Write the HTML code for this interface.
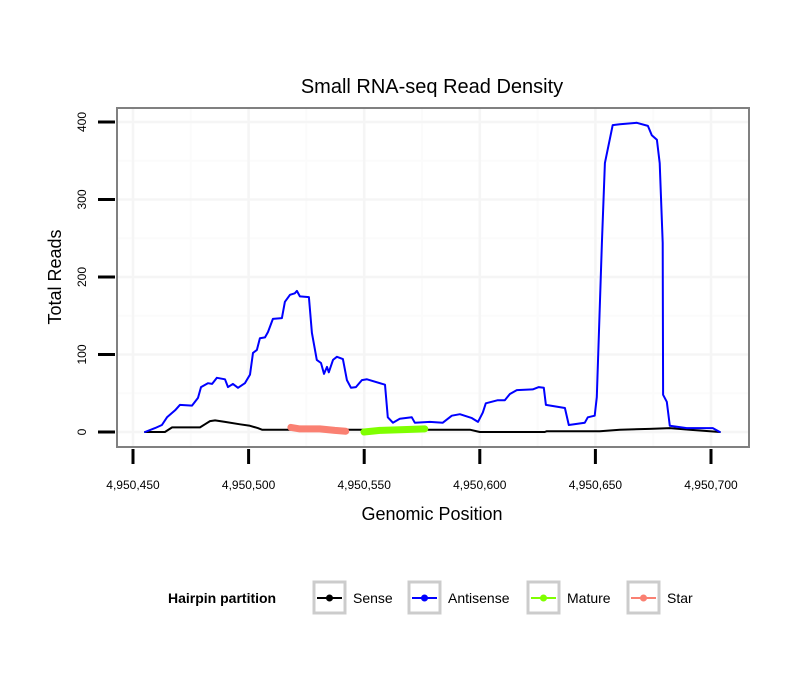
<!DOCTYPE html>
<html><head><meta charset="utf-8"><style>
body{margin:0;background:#fff;}
svg text{font-family:"Liberation Sans",Arial,sans-serif;}
</style></head><body>
<svg id="chart" width="810" height="690" viewBox="0 0 810 690" xmlns="http://www.w3.org/2000/svg">
<rect width="810" height="690" fill="#fff"/>
<text x="432" y="93" font-size="20" text-anchor="middle">Small RNA-seq Read Density</text>
<g id="grid"></g>
<g id="series"></g>
<rect x="117" y="108" width="632" height="339" fill="none" stroke="#808080" stroke-width="2"/>
<g id="axes"></g>
<text x="432" y="520" font-size="18" text-anchor="middle">Genomic Position</text>
<text x="61" y="277" font-size="18" text-anchor="middle" transform="rotate(-90 61 277)">Total Reads</text>
<g>
<text x="168" y="603" font-size="14" font-weight="bold">Hairpin partition</text>
<g><rect x="314" y="582" width="31" height="31" fill="#fff" stroke="#ccc" stroke-width="3"/><line x1="317" y1="598" x2="342" y2="598" stroke="#000" stroke-width="2"/><circle cx="329.5" cy="598" r="3.5" fill="#000"/><text x="353" y="603" font-size="14">Sense</text></g>
<g><rect x="409" y="582" width="31" height="31" fill="#fff" stroke="#ccc" stroke-width="3"/><line x1="412" y1="598" x2="437" y2="598" stroke="#0000ff" stroke-width="2"/><circle cx="424.5" cy="598" r="3.5" fill="#0000ff"/><text x="448" y="603" font-size="14">Antisense</text></g>
<g><rect x="528" y="582" width="31" height="31" fill="#fff" stroke="#ccc" stroke-width="3"/><line x1="531" y1="598" x2="556" y2="598" stroke="#7fff00" stroke-width="2"/><circle cx="543.5" cy="598" r="3.5" fill="#7fff00"/><text x="567" y="603" font-size="14">Mature</text></g>
<g><rect x="628" y="582" width="31" height="31" fill="#fff" stroke="#ccc" stroke-width="3"/><line x1="631" y1="598" x2="656" y2="598" stroke="#fa8072" stroke-width="2"/><circle cx="643.5" cy="598" r="3.5" fill="#fa8072"/><text x="667" y="603" font-size="14">Star</text></g>
</g>
</svg>
<script>
const xTicks=[4950450,4950500,4950550,4950600,4950650,4950700];
const xTickLabels=["4,950,450","4,950,500","4,950,550","4,950,600","4,950,650","4,950,700"];
const yTicks=[0,100,200,300,400];
const yTickLabels=["0","100","200","300","400"];
const base=4950450;
const antisensePos=[5.2,9.5,12.5,14.7,18.2,20.3,25.5,28.1,29.4,32.4,34.2,36.3,39.8,41.1,43.2,45.4,48.4,50.6,51.9,53.6,54.9,57.1,58.4,60.5,64.4,65.7,67.9,70.0,70.9,72.2,76.1,77.4,79.5,81.3,82.6,83.9,84.7,86.5,88.2,90.8,92.5,94.3,96.4,99.0,101.2,109.0,110.2,112.4,115.4,120.6,121.9,128.4,134.0,137.9,141.4,146.6,149.2,151.3,152.6,157.8,160.8,163.0,166.0,172.9,175.5,177.7,178.6,186.8,188.5,195.4,196.7,199.7,200.6,202.8,204.1,207.5,210.6,217.9,222.7,224.4,226.6,227.8,229.1,229.3,230.9,232.2,239.5,250.8,253.8];
const antisenseVal=[0,5,9,19,28,35,34,44,58,63,62,70,68,58,62,57,63,74,102,106,121,122,129,146,147,168,177,179,182,175,174,128,93,89,75,84,77,93,97,94,67,57,58,67,68,61,19,12,17,19,12,13,12,21,23,18,13,25,37,41,41,49,54,55,58,57,35,31,9,12,19,21,45,244,347,396,397,399,395,383,377,347,244,48,39,8,5,5,0];
const sensePos=[5.2,13.8,16.9,29,31.1,33.3,35.5,39.8,46.3,50.6,54,55.8,67.9,145.7,150,178.1,179,199.7,201.9,210.6,223.5,232.2,240.8,253.8];
const senseVal=[0,0,6,6,10,14,15,13,10,8,5,3,3,3,0,0,1,1,1,3,4,5,3,0];
const maturePos=[99.9,106.8,115.4,126.2];
const matureVal=[0,2,3,4];
const starPos=[68.3,72.2,80.8,87.3,92];
const starVal=[6,4,4,2,1];

const NS="http://www.w3.org/2000/svg";
const xS=v=>133+(v-4950450)*(711-133)/250;
const yS=v=>432-v*(432-122)/400;
const grid=document.getElementById('grid'),axes=document.getElementById('axes'),ser=document.getElementById('series');
function mk(tag,attrs,parent){const e=document.createElementNS(NS,tag);for(const k in attrs)e.setAttribute(k,attrs[k]);parent.appendChild(e);return e;}
for(let i=0;i<xTicks.length-1;i++){const m=(xTicks[i]+xTicks[i+1])/2;const l=mk('line',{x1:xS(m),x2:xS(m),y1:109,y2:446,stroke:'#fbfbfb','stroke-width':2},grid);

}
for(let i=0;i<yTicks.length;i++){const m=yTicks[i]+50;if(yS(m)<109)continue;const l=mk('line',{x1:118,x2:748,y1:yS(m),y2:yS(m),stroke:'#fbfbfb','stroke-width':2},grid);

}
xTicks.forEach((t,i)=>{
 const x=xS(t);
 if(x>117&&x<749){const g=mk('line',{x1:x,x2:x,y1:109,y2:446,stroke:'#f5f5f5','stroke-width':2.5},grid);
 
 }
 const tk=mk('line',{x1:x,x2:x,y1:449,y2:464,stroke:'#000','stroke-width':3},axes);
 
 
 const tx=mk('text',{x:x,y:489,'font-size':12,'text-anchor':'middle'},axes);tx.textContent=xTickLabels[i];
 
 
});
yTicks.forEach((t,i)=>{
 const y=yS(t);
 const g=mk('line',{x1:118,x2:748,y1:y,y2:y,stroke:'#f5f5f5','stroke-width':2.5},grid);
 
 
 const tk=mk('line',{x1:98,x2:115,y1:y,y2:y,stroke:'#000','stroke-width':3},axes);
 
 
 const tx=mk('text',{x:86,y:y,'font-size':12,'text-anchor':'middle',transform:`rotate(-90 86 ${y})`},axes);tx.textContent=yTickLabels[i];
 
 
});
function line(pos,val,color,w,name){
 const d=pos.map((p,i)=>(i?'L':'M')+xS(base+p).toFixed(1)+','+yS(val[i]).toFixed(1)).join(' ');
 const p=mk('path',{d:d,fill:'none',stroke:color,'stroke-width':w,'stroke-linejoin':'round','stroke-linecap':'round'},ser);
 
 
}
line(sensePos,senseVal,'#000',2,'sense-line');
line(antisensePos,antisenseVal,'#0000ff',2,'antisense-line');
line(starPos,starVal,'#fa8072',7,'star-line');
line(maturePos,matureVal,'#7fff00',7,'mature-line');
</script>
</body></html>
